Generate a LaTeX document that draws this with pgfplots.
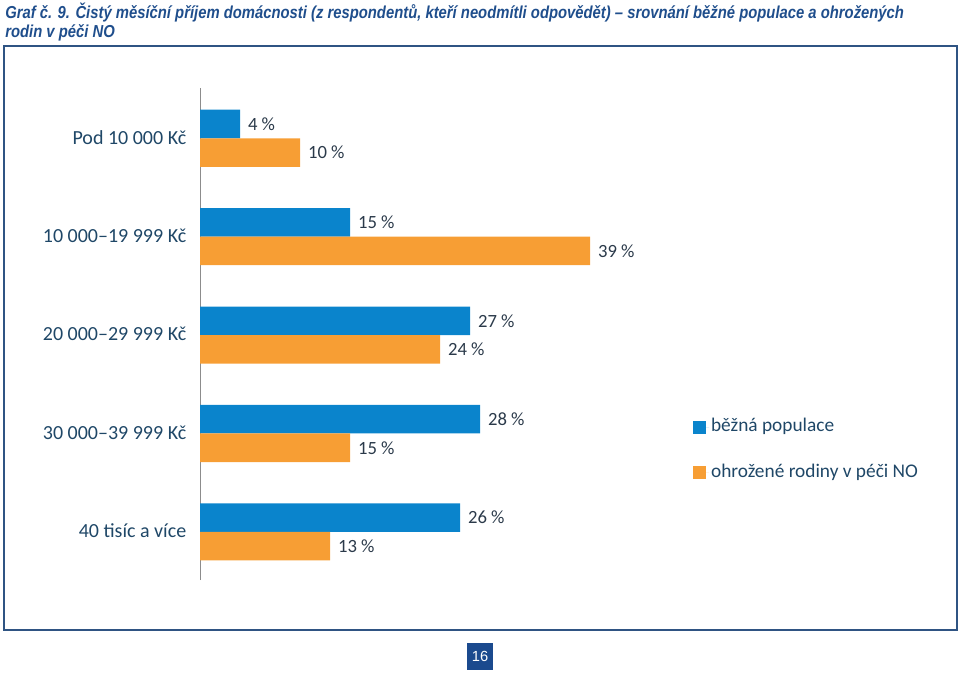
\documentclass[border=0pt]{standalone}
\usepackage{pgfplots}
\pgfplotsset{compat=1.18}
\usepackage{fontspec}
\setmainfont{Carlito}
\newfontfamily\titlefont[FakeStretch=0.855]{Liberation Sans}
\newfontfamily\pnfont{Liberation Sans}
\definecolor{cblue}{HTML}{0A84CC}
\definecolor{corange}{HTML}{F79E34}
\definecolor{ttl}{HTML}{1F4E8C}
\definecolor{lbl}{HTML}{1F4767}
\definecolor{dlbl}{HTML}{2B3A4A}
\definecolor{frm}{HTML}{2F5483}
\definecolor{pgn}{HTML}{1B4A8E}
\begin{document}
\begin{tikzpicture}
\useasboundingbox (0pt,0pt) rectangle (720pt,-504.75pt);
\begin{scope}[x=0.75pt,y=-0.75pt]
\draw[frm, line width=1.5pt] (4,46) rectangle (957,630);
\node[anchor=north west, inner sep=0pt, align=left, text=ttl, font=\titlefont\bfseries\itshape\fontsize{13}{14.5}\selectfont] at (5,2.5) {Graf č. 9. Čistý měsíční příjem domácnosti (z respondentů, kteří neodmítli odpovědět) – srovnání běžné populace a ohrožených\\rodin v péči NO};
\node[fill=pgn, text=white, minimum width=19.5pt, minimum height=20.25pt, inner sep=0pt, font=\pnfont\fontsize{11}{13}\selectfont] at (480,656.5) {16};
\end{scope}
\begin{axis}[
  at={(150pt,-435pt)}, anchor=south west,
  scale only axis, width=525pt, height=369pt,
  xmin=0, xmax=70, ymin=-0.5, ymax=4.5,
  xbar, bar width=21.4pt,
  axis x line=none, axis y line=left,
  axis line style={-, draw=gray!90, line width=0.6pt},
  ytick={0,...,4},
  yticklabels={40 tisíc a více, 30 000–39 999 Kč, 20 000–29 999 Kč, 10 000–19 999 Kč, Pod 10 000 Kč},
  ytick style={draw=none},
  yticklabel style={inner sep=0pt, xshift=-8pt, text=lbl, font=\fontsize{15}{17}\selectfont},
  nodes near coords={\pgfmathprintnumber[assume math mode=true]{\pgfplotspointmeta}~\%},
  nodes near coords align=horizontal,
  every node near coord/.append style={anchor=west, xshift=2.5pt, text=dlbl, font=\fontsize{14}{16}\selectfont},
  point meta=x,
  legend image code/.code={\fill[#1] (0pt,-4.9pt) rectangle (9.75pt,4.9pt); \path (0pt,0pt) -- (12pt,0pt);},
  legend cell align=left,
  legend style={at={(0.704,0.333)}, anchor=north west, draw=none, fill=none, inner sep=0pt,
    row sep=18pt, text=lbl, font=\fontsize{14.5}{17}\selectfont,
    nodes={inner sep=1.5pt, text height=10pt, text depth=3pt}},
]
\addplot[fill=cblue, draw=none, bar shift=9.9pt] coordinates {(4,4) (15,3) (27,2) (28,1) (26,0)};
\addplot[fill=corange, draw=none, bar shift=-11.5pt] coordinates {(10,4) (39,3) (24,2) (15,1) (13,0)};
\legend{běžná populace, ohrožené rodiny v péči NO}
\end{axis}
\end{tikzpicture}
\end{document}
